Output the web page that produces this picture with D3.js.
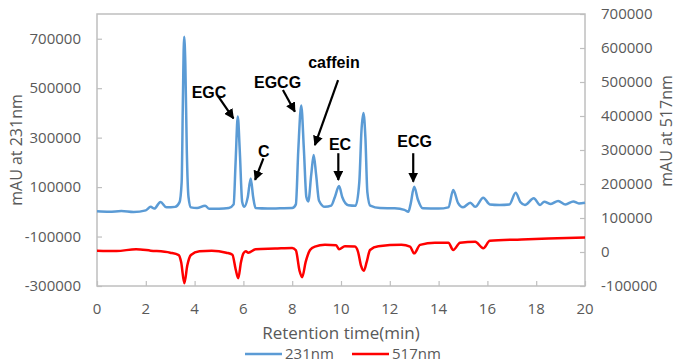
<!DOCTYPE html>
<html>
<head>
<meta charset="utf-8">
<script src="https://cdn.jsdelivr.net/npm/d3@7"></script>
<style>
  body { margin: 0; background: #ffffff; }
  svg text { font-family: "Open Sans", "Noto Sans", sans-serif; }
</style>
</head>
<body>
<div id="chart"></div>
<script>
// retention time (min) and signal
var time231 = [0.0, 0.5, 1.0, 1.5, 2.0, 2.2, 2.35, 2.6, 2.85, 3.2, 3.38, 3.47, 3.52, 3.57, 3.62, 3.68, 3.75, 3.85,
  4.1, 4.43, 4.6, 5.0, 5.4, 5.6, 5.68, 5.77, 5.85, 5.95, 6.04, 6.18, 6.3, 6.4, 6.5, 7.0, 7.5, 8.0, 8.15, 8.25,
  8.37, 8.48, 8.58, 8.66, 8.78, 8.88, 8.98, 9.1, 9.34, 9.6, 9.75, 9.92, 10.05, 10.3, 10.6, 10.75, 10.84, 10.92,
  11.0, 11.08, 11.2, 11.6, 12.2, 12.6, 12.76, 12.85, 13.0, 13.15, 13.35, 14.0, 14.4, 14.6, 14.8, 15.0, 15.3,
  15.5, 15.83, 16.1, 16.5, 16.9, 17.16, 17.35, 17.54, 17.9, 18.16, 18.33, 18.6, 18.9, 19.2, 19.52, 19.75, 20.0];
var mau231 = [2000, 0, 3000, -1000, 6000, 20000, 13000, 40000, 18000, 20000, 38000, 120000, 450000, 708000, 600000,
  250000, 60000, 18000, 15000, 25000, 12000, 12000, 15000, 30000, 200000, 385000, 250000, 40000, 20000, 60000,
  135000, 60000, 15000, 13000, 14000, 15000, 30000, 250000, 430000, 250000, 60000, 42000, 150000, 230000, 150000,
  45000, 20000, 25000, 60000, 104000, 60000, 27000, 25000, 120000, 330000, 400000, 300000, 80000, 25000, 15000,
  14000, 8000, 0, 30000, 101000, 50000, 14000, 13000, 18000, 88000, 35000, 18000, 37000, 20000, 57000, 30000,
  28000, 30000, 77000, 40000, 28000, 55000, 28000, 41000, 32000, 44000, 30000, 42000, 34000, 37000];

var time517 = [0.0, 0.8, 1.6, 2.2, 3.0, 3.35, 3.45, 3.58, 3.7, 3.85, 4.2, 4.7, 5.3, 5.55, 5.68, 5.79, 5.9, 6.0,
  6.1, 6.2, 6.5, 7.3, 8.0, 8.15, 8.3, 8.41, 8.55, 8.73, 8.93, 9.34, 9.8, 9.92, 10.16, 10.57, 10.7, 10.82, 10.94,
  11.05, 11.19, 11.53, 12.48, 12.83, 13.0, 13.24, 13.85, 14.4, 14.6, 14.88, 15.5, 15.83, 16.1, 17.4, 18.5, 20.0];
var mau517 = [4000, 3000, 8000, 4000, -2000, -9000, -30000, -92000, -40000, -9000, 2000, 4000, -2000, -8000,
  -50000, -77000, -30000, -4000, 2000, -2000, 8000, 10000, 12000, 5000, -55000, -74000, -30000, 6000, 16000,
  21000, 20000, 8000, 17000, 16000, 0, -40000, -55000, -30000, 6000, 17000, 21000, 16000, -4000, 21000, 27000,
  27000, 6000, 27000, 30000, 11000, 33000, 37000, 40000, 43000];

var xTicks = [0, 2, 4, 6, 8, 10, 12, 14, 16, 18, 20];
var leftTicks = [-300000, -100000, 100000, 300000, 500000, 700000];
var rightTicks = [-100000, 0, 100000, 200000, 300000, 400000, 500000, 600000, 700000];

// peak labels: text position and arrow in (min, mAU at 231nm)
var peakNames = ["EGC", "C", "EGCG", "caffein", "EC", "ECG"];
var labelAt = [[4.59, 460000], [6.84, 223000], [7.40, 502000], [9.71, 580000], [9.96, 250000], [13.02, 262000]];
var arrowFrom = [[4.96, 468000], [6.82, 216000], [7.62, 493000], [9.88, 533000], [9.89, 237000], [12.96, 237000]];
var arrowTo = [[5.59, 378000], [6.48, 129000], [8.11, 405000], [8.93, 270000], [9.89, 129000], [12.96, 122000]];

var W = 683, H = 362;
var plot = {left: 97, right: 585, top: 14, bottom: 286};

var svg = d3.select("#chart").append("svg")
  .attr("width", W)
  .attr("height", H);

var x = d3.scaleLinear().domain([0, 20]).range([plot.left, plot.right]);
var yL = d3.scaleLinear().domain([-300000, 800000]).range([plot.bottom, plot.top]);
var yR = d3.scaleLinear().domain([-100000, 700000]).range([plot.bottom, plot.top]);

var grey = "#595959";
var frame = "#BFBFBF";

// frame
svg.append("rect")
  .attr("x", plot.left).attr("y", plot.top)
  .attr("width", plot.right - plot.left).attr("height", plot.bottom - plot.top)
  .attr("fill", "none").attr("stroke", frame).attr("stroke-width", 1.5);

// axes, ticks point inside
var xAxis = svg.append("g")
  .attr("transform", "translate(0," + plot.bottom + ")")
  .call(d3.axisTop(x).tickValues(xTicks).tickSize(5).tickFormat(""));
var lAxis = svg.append("g")
  .attr("transform", "translate(" + plot.left + ",0)")
  .call(d3.axisRight(yL).tickValues(leftTicks).tickSize(5).tickFormat(""));
var rAxis = svg.append("g")
  .attr("transform", "translate(" + plot.right + ",0)")
  .call(d3.axisLeft(yR).tickValues(rightTicks).tickSize(5).tickFormat(""));
[xAxis, lAxis, rAxis].forEach(function(g){
  g.select(".domain").remove();
  g.selectAll("line").attr("stroke", frame).attr("stroke-width", 1.2);
});

// tick labels
svg.append("g").selectAll("text").data(xTicks).enter().append("text")
  .attr("x", function(d){ return x(d); })
  .attr("y", 309)
  .attr("dy", "0.35em")
  .attr("text-anchor", "middle")
  .attr("font-size", 15)
  .attr("fill", grey)
  .text(function(d){ return d; });

svg.append("g").selectAll("text").data(leftTicks).enter().append("text")
  .attr("x", 81)
  .attr("y", function(d){ return yL(d); })
  .attr("dy", "0.35em")
  .attr("text-anchor", "end")
  .attr("font-size", 15)
  .attr("fill", grey)
  .text(function(d){ return d; });

svg.append("g").selectAll("text").data(rightTicks).enter().append("text")
  .attr("x", 601)
  .attr("y", function(d){ return yR(d); })
  .attr("dy", "0.35em")
  .attr("text-anchor", "start")
  .attr("font-size", 15)
  .attr("fill", grey)
  .text(function(d){ return d; });

// axis titles
svg.append("text")
  .attr("transform", "translate(16,150) rotate(-90)")
  .attr("dy", "0.35em")
  .attr("text-anchor", "middle")
  .attr("font-size", 16)
  .attr("fill", grey)
  .text("mAU at 231nm");

svg.append("text")
  .attr("transform", "translate(666,131) rotate(-90)")
  .attr("dy", "0.35em")
  .attr("text-anchor", "middle")
  .attr("font-size", 16)
  .attr("fill", grey)
  .text("mAU at 517nm");

svg.append("text")
  .attr("x", (plot.left + plot.right) / 2)
  .attr("y", 333)
  .attr("dy", "0.35em")
  .attr("text-anchor", "middle")
  .attr("font-size", 17)
  .attr("fill", grey)
  .text("Retention time(min)");

// the two traces
var line231 = d3.line()
  .x(function(d, i){ return x(time231[i]); })
  .y(function(d){ return yL(d); })
  .curve(d3.curveMonotoneX);
var line517 = d3.line()
  .x(function(d, i){ return x(time517[i]); })
  .y(function(d){ return yR(d); })
  .curve(d3.curveMonotoneX);

svg.append("path")
  .attr("d", line517(mau517))
  .attr("fill", "none")
  .attr("stroke", "#FF0000")
  .attr("stroke-width", 2.5)
  .attr("stroke-linejoin", "round");

svg.append("path")
  .attr("d", line231(mau231))
  .attr("fill", "none")
  .attr("stroke", "#5B9BD5")
  .attr("stroke-width", 2.5)
  .attr("stroke-linejoin", "round");

// annotations
svg.append("defs").append("marker")
  .attr("id", "head")
  .attr("viewBox", "0 0 10 10")
  .attr("refX", 9).attr("refY", 5)
  .attr("markerUnits", "userSpaceOnUse")
  .attr("markerWidth", 10).attr("markerHeight", 10)
  .attr("orient", "auto")
  .append("path")
  .attr("d", "M0,0 L10,5 L0,10 Z")
  .attr("fill", "#000");

peakNames.forEach(function(name, i){
  svg.append("line")
    .attr("x1", x(arrowFrom[i][0])).attr("y1", yL(arrowFrom[i][1]))
    .attr("x2", x(arrowTo[i][0])).attr("y2", yL(arrowTo[i][1]))
    .attr("stroke", "#000")
    .attr("stroke-width", 2.2)
    .attr("marker-end", "url(#head)");
  svg.append("text")
    .attr("x", x(labelAt[i][0]))
    .attr("y", yL(labelAt[i][1]))
    .attr("text-anchor", "middle")
    .attr("font-weight", "bold")
    .attr("font-size", 16)
    .attr("fill", "#000")
    .style("font-family", "'Liberation Sans', Arial, sans-serif")
    .text(name);
});

// legend
var legendItems = ["231nm", "517nm"];
var legendColors = ["#5B9BD5", "#FF0000"];
var legendX = [245, 352];
legendItems.forEach(function(name, i){
  svg.append("line")
    .attr("x1", legendX[i]).attr("x2", legendX[i] + 37)
    .attr("y1", 354).attr("y2", 354)
    .attr("stroke", legendColors[i])
    .attr("stroke-width", 2.5);
  svg.append("text")
    .attr("x", legendX[i] + 40)
    .attr("y", 354)
    .attr("dy", "0.35em")
    .attr("font-size", 15)
    .attr("fill", grey)
    .text(name);
});
</script>
</body>
</html>
